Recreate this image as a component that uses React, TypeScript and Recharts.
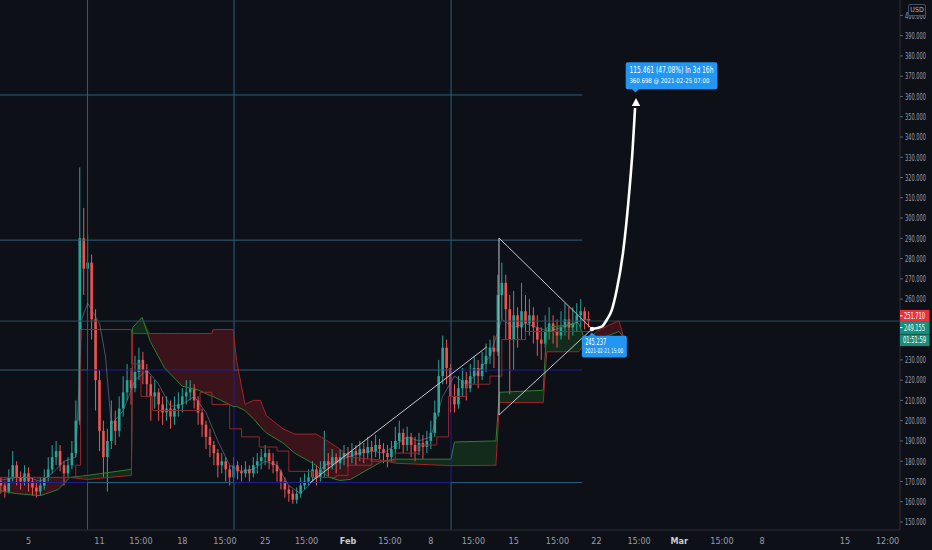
import React from 'react';
import {
  ComposedChart,
  Bar,
  Line,
  Area,
  XAxis,
  YAxis,
  ReferenceLine,
  ReferenceDot,
} from 'recharts';

const BG = '#0e1018';
const UP = '#26a69a';
const DOWN = '#ef5350';
const GRID_CYAN = '#2b5f7d';
const GRID_NAVY = '#1f1f95';
const DRAW = '#c3c6ce';
const BLUE = '#2196f3';
const AXIS_TEXT = '#9a9ea8';
const FONT = "'Liberation Sans Narrow', 'DejaVu Sans Condensed', Roboto, sans-serif";

const X_DOMAIN: [number, number] = [1.592, 77.65];
const Y_DOMAIN: [number, number] = [146.05, 407.6];

// x axis: days since Jan 1
const xTickDays = [4, 10, 13.5, 17, 20.6, 24, 27.5, 31, 34.55, 38, 41.6, 45, 48.7, 52, 55.6, 59, 62.6, 66, 73, 76.6];
const xTickLabels = ['5', '11', '15:00', '18', '15:00', '25', '15:00', 'Feb', '15:00', '8', '15:00', '15', '15:00', '22', '15:00', 'Mar', '15:00', '8', '15', '12:00'];
const yTicks = [150, 160, 170, 180, 190, 200, 210, 220, 230, 260, 270, 280, 290, 300, 310, 320, 330, 340, 350, 360, 370, 380, 390, 400];

// candles, 8h each
const START_DAY = 1.667;
const STEP = 1 / 3;
const firstOpen = 170;
const closes = [
  168, 165, 172, 178, 172, 170, 174, 170, 167, 165, 168, 172, 176, 182, 185, 178, 174, 178, 184, 200,
  290, 275, 278, 250, 220, 195, 182, 190, 200, 195, 206, 214, 220, 216, 224, 230, 225, 218, 212, 214,
  208, 204, 206, 202, 206, 208, 212, 214, 216, 210, 204, 198, 192, 188, 184, 178, 180, 176, 172, 178,
  175, 174, 176, 174, 178, 180, 182, 184, 180, 178, 175, 170, 166, 164, 161, 164, 168, 170, 172, 176,
  172, 176, 180, 178, 182, 179, 182, 184, 182, 185, 183, 186, 184, 187, 185, 188, 186, 184, 182, 186,
  190, 194, 188, 192, 188, 185, 189, 187, 190, 194, 204, 222, 236, 226, 212, 208, 216, 220, 216, 222,
  226, 222, 228, 232, 236, 234, 262, 268, 255, 240, 252, 246, 254, 248, 252, 246, 240, 238, 244, 248,
  244, 242, 246, 250, 246, 248, 252, 254, 250, 249.155,
];
const highs = [
  172, 170, 176, 185, 180, 175, 178, 177, 172, 170, 172, 176, 182, 188, 190, 188, 180, 182, 190, 210,
  325, 305, 292, 282, 255, 225, 200, 196, 210, 205, 212, 222, 228, 226, 232, 236, 234, 228, 222, 220,
  216, 212, 212, 210, 212, 214, 216, 220, 220, 218, 212, 206, 200, 196, 190, 186, 184, 182, 178, 182,
  180, 178, 180, 178, 182, 184, 186, 188, 186, 184, 180, 176, 172, 168, 166, 167, 172, 174, 176, 180,
  178, 180, 195, 184, 186, 184, 186, 188, 187, 189, 188, 190, 189, 192, 190, 193, 191, 189, 188, 190,
  197, 200, 196, 197, 194, 192, 194, 193, 195, 200, 210, 230, 242, 240, 228, 218, 222, 226, 224, 228,
  232, 230, 234, 238, 240, 242, 272, 278, 272, 262, 264, 256, 268, 262, 260, 256, 252, 246, 252, 256,
  252, 250, 254, 258, 256, 256, 258, 260, 256, 254,
];
const lows = [
  164, 162, 164, 170, 168, 166, 168, 165, 163, 162, 163, 166, 170, 174, 178, 175, 168, 172, 176, 182,
  198, 262, 258, 240, 205, 185, 172, 165, 186, 188, 192, 202, 210, 208, 214, 220, 218, 212, 200, 206,
  200, 198, 200, 196, 198, 202, 204, 208, 210, 206, 198, 192, 186, 182, 178, 172, 174, 170, 168, 170,
  171, 170, 172, 170, 172, 174, 176, 178, 176, 174, 170, 166, 162, 160, 159, 159, 162, 166, 168, 170,
  168, 170, 172, 172, 176, 174, 176, 178, 177, 179, 178, 180, 179, 181, 180, 182, 181, 179, 177, 180,
  184, 186, 184, 185, 182, 180, 183, 181, 184, 186, 192, 202, 218, 218, 204, 204, 206, 212, 210, 214,
  218, 216, 220, 224, 228, 226, 232, 250, 240, 213, 225, 236, 240, 240, 242, 238, 232, 230, 236, 240,
  238, 236, 240, 242, 240, 242, 244, 246, 245, 246,
];

// ichimoku cloud
const cloudDays = [1.0, 3, 5, 6.5, 7.5, 9, 12.7, 12.8, 13.6, 14.3, 15.5, 17, 18.4, 19.5, 19.6, 21.3, 21.6, 22.3, 23, 23.6, 24.1, 25.5, 26.5, 28.3, 29.4, 30.3, 31.2, 33.9, 35, 39.7, 40, 43.5, 43.8, 47.5, 47.8, 50.5, 51, 52, 53, 53.9, 54.3];
const spanA = [166, 164, 163, 166, 172, 173, 176, 246, 251, 239, 226, 217, 215, 212, 212, 207, 207, 205, 201, 197, 194, 189, 184, 178, 172, 170.5, 171, 180, 181, 181, 189.5, 190, 214, 215, 246, 248, 240, 240, 242, 244, 241];
const spanB = [172, 172, 172, 172, 172, 171, 173, 243, 243, 243, 243, 243, 243, 243, 245, 245, 229, 208, 210, 210, 202.5, 196, 193.4, 193.4, 189.5, 186, 182, 180.5, 179, 177.8, 177.8, 178, 209, 209, 234, 234, 238, 244, 247, 249.3, 241];

const tenkanDays = [1.0, 3, 4, 5, 6, 7, 8, 8.5, 9, 10, 10.5, 11, 12, 13, 14, 15, 16, 17, 18, 19, 20, 21, 22, 23, 24, 25, 26, 27, 28, 29, 30, 31, 32, 33, 34, 35, 36, 37, 38, 39, 40, 41, 42, 43, 44, 45, 46, 47, 48, 49, 50, 51, 51.5];
const tenkan = [170, 172, 172, 170, 174, 180, 182, 250, 258, 248, 232, 198, 205, 220, 225, 218, 207, 208, 212, 204, 190, 178, 175, 176, 180, 178, 168, 164, 170, 178, 180, 182, 184, 185, 184, 188, 192, 190, 192, 212, 222, 218, 224, 232, 250, 246, 248, 246, 244, 246, 248, 250, 250];

const kijunDays = [1.0, 6, 8, 8.4, 12.6, 12.7, 13.5, 14.5, 17, 18.5, 19.5, 21, 22, 23.5, 25, 26, 28, 30, 31, 33, 35, 37, 38.5, 39.5, 41, 43, 44, 46, 48, 51.6];
const kijun = [172, 172, 178, 245, 245, 228, 212, 205, 205, 214, 208, 196, 192, 187, 185, 175, 172, 173, 178, 180, 184, 188, 192, 212, 218, 222, 240, 244, 244, 244];

// drawings
const gridX = [8.99, 21.37, 39.71];
const gridLevels = [360.73, 289.1, 225.0, 169.47];
const gridRight = 50.79;
const trendLine = [{ x: 27.79, y: 169.4 }, { x: 42.75, y: 236.5 }];
const triangle = [{ x: 43.76, y: 290.15 }, { x: 51.625, y: 245.237 }, { x: 43.76, y: 202.8 }];
const curveDays = [51.625, 52.44, 52.86, 53.29, 53.71, 54.27, 54.71, 55.05, 55.26];
const curveValues = [245.237, 246.4, 249.7, 254.6, 264.5, 284.2, 308.9, 333.6, 354.3];
const target = { x: 55.29, y: 360.698 };
const lastPrice = 249.155;
const prevPrice = 251.71;

const candles = closes.map((c, i) => ({
  t: START_DAY + i * STEP,
  open: i === 0 ? firstOpen : closes[i - 1],
  close: c,
  high: highs[i],
  low: lows[i],
  range: [lows[i], highs[i]],
}));
const cloud = cloudDays.map((t, i) => ({ t, a: spanA[i], b: spanB[i] }));
const tenkanData = tenkanDays.map((t, i) => ({ t, v: tenkan[i] }));
const kijunData = kijunDays.map((t, i) => ({ t, v: kijun[i] }));
const curveData = curveDays.map((t, i) => ({ t, v: curveValues[i] }));

const Candle = (props: any) => {
  const { x, width, payload } = props;
  let { y, height } = props;
  if (height < 0) {
    y += height;
    height = -height;
  }
  const { open, close, high, low } = payload;
  const color = close >= open ? UP : DOWN;
  const cx = x + width / 2;
  const k = high === low ? 0 : height / (high - low);
  const top = y + (high - Math.max(open, close)) * k;
  const bottom = y + (high - Math.min(open, close)) * k;
  return (
    <g>
      <line x1={cx} x2={cx} y1={y} y2={y + height} stroke={color} strokeWidth={1} />
      <rect x={cx - 1.3} y={top} width={2.6} height={Math.max(1, bottom - top)} fill={color} />
    </g>
  );
};

const YTick = ({ x, y, payload }: any) => (
  <text x={x} y={y} dy={3.3} fill={AXIS_TEXT} fontSize={9} fontFamily={FONT} textLength={21} lengthAdjust="spacingAndGlyphs">
    {Number(payload.value).toFixed(3)}
  </text>
);

const XTick = ({ x, y, payload }: any) => {
  const label = xTickLabels[xTickDays.indexOf(payload.value)];
  const bold = label === 'Feb' || label === 'Mar';
  return (
    <text x={x} y={y} dy={14.3} textAnchor="middle" fill={bold ? '#c9ccd3' : AXIS_TEXT} fontSize={9} fontWeight={bold ? 700 : 400} fontFamily={FONT}>
      {label}
    </text>
  );
};

const TargetLabel = ({ cx, cy }: any) => (
  <g>
    <polygon points={`${cx + 0.6},${cy + 3} ${cx - 3.6},${cy + 11} ${cx + 4.8},${cy + 11}`} fill="#ffffff" />
    <rect x={cx - 9.7} y={cy - 32.8} width={91.6} height={27} rx={2} fill={BLUE} />
    <polygon points={`${cx - 3.5},${cy - 6} ${cx + 3.5},${cy - 6} ${cx},${cy - 2.5}`} fill={BLUE} />
    <text x={cx - 6} y={cy - 21.8} fill="#ffffff" fontSize={8.5} fontFamily={FONT} textLength={84} lengthAdjust="spacingAndGlyphs">
      115.461 (47.08%) In 3d 16h
    </text>
    <text x={cx - 6} y={cy - 12.4} fill="#ffffff" fontSize={6.5} fontFamily={FONT} textLength={80} lengthAdjust="spacingAndGlyphs">
      360.698 @ 2021-02-25  07:00
    </text>
  </g>
);

const ApexLabel = ({ cx, cy }: any) => (
  <g>
    <rect x={cx - 10.2} y={cy + 6.8} width={45} height={21.6} rx={2} fill={BLUE} />
    <polygon points={`${cx - 0.5},${cy + 3.4} ${cx - 3},${cy + 7} ${cx + 4},${cy + 7}`} fill={BLUE} />
    <circle cx={cx} cy={cy} r={2.3} fill="#ffffff" />
    <text x={cx - 6.9} y={cy + 15.6} fill="#ffffff" fontSize={8.5} fontFamily={FONT} textLength={21} lengthAdjust="spacingAndGlyphs">
      245.237
    </text>
    <text x={cx - 6.9} y={cy + 24.1} fill="#ffffff" fontSize={6.5} fontFamily={FONT} textLength={38} lengthAdjust="spacingAndGlyphs">
      2021-02-21 15:00
    </text>
  </g>
);

const PrevPriceTag = ({ cx, cy }: any) => (
  <g>
    <rect x={cx} y={cy - 6} width={29.5} height={11.2} fill="#e8313b" />
    <line x1={cx} x2={cx + 2.5} y1={cy} y2={cy} stroke="#ffffff" />
    <text x={cx + 4} y={cy + 3.2} fill="#ffffff" fontSize={9} fontFamily={FONT} textLength={21} lengthAdjust="spacingAndGlyphs">
      251.710
    </text>
  </g>
);

const LastPriceTag = ({ cx, cy }: any) => (
  <g>
    <rect x={cx} y={cy} width={29.5} height={13} fill="#13907d" />
    <rect x={cx} y={cy + 13.4} width={29.5} height={11.6} fill="#13907d" />
    <line x1={cx} x2={cx + 2.5} y1={cy + 6.5} y2={cy + 6.5} stroke="#ffffff" />
    <text x={cx + 4} y={cy + 9.8} fill="#ffffff" fontSize={9} fontFamily={FONT} textLength={21} lengthAdjust="spacingAndGlyphs">
      249.155
    </text>
    <text x={cx + 3} y={cy + 22.3} fill="#ffffff" fontSize={8.5} fontFamily={FONT} textLength={23} lengthAdjust="spacingAndGlyphs">
      01:51:59
    </text>
  </g>
);

function gridSegments() {
  const [x0, x3] = [X_DOMAIN[0], gridRight];
  const [yBottom, yTop] = Y_DOMAIN;
  const [, , l3, l4] = gridLevels;
  const segs: { a: any; b: any; c: string }[] = [];
  gridX.forEach((gx) => {
    segs.push({ a: { x: gx, y: yTop }, b: { x: gx, y: l3 }, c: GRID_CYAN });
    segs.push({ a: { x: gx, y: l3 }, b: { x: gx, y: l4 }, c: GRID_NAVY });
    segs.push({ a: { x: gx, y: l4 }, b: { x: gx, y: yBottom }, c: GRID_CYAN });
  });
  gridLevels.slice(0, 2).forEach((lv) => {
    segs.push({ a: { x: x0, y: lv }, b: { x: x3, y: lv }, c: GRID_CYAN });
  });
  const xs = [x0, ...gridX, x3];
  for (let i = 0; i < xs.length - 1; i++) {
    segs.push({ a: { x: xs[i], y: l3 }, b: { x: xs[i + 1], y: l3 }, c: i % 2 === 0 ? GRID_CYAN : GRID_NAVY });
    segs.push({ a: { x: xs[i], y: l4 }, b: { x: xs[i + 1], y: l4 }, c: i % 2 === 0 ? GRID_NAVY : GRID_CYAN });
  }
  return segs;
}

export default function App() {
  const segs = gridSegments();
  return (
    <div style={{ position: 'absolute', left: 0, top: 0, width: 932, height: 550, background: BG, overflow: 'hidden' }}>
      <ComposedChart width={932} height={550} data={candles} margin={{ top: 0, right: 0, bottom: 0, left: 0 }}>
        <XAxis
          dataKey="t"
          type="number"
          domain={X_DOMAIN}
          allowDataOverflow
          ticks={xTickDays}
          interval={0}
          tick={<XTick />}
          tickLine={false}
          tickSize={0}
          tickMargin={0}
          height={20}
          axisLine={{ stroke: '#2a2e39' }}
        />
        <YAxis
          orientation="right"
          type="number"
          domain={Y_DOMAIN}
          allowDataOverflow
          ticks={yTicks}
          interval={0}
          tick={<YTick />}
          tickLine={{ stroke: '#5d606b' }}
          tickSize={3}
          tickMargin={2}
          width={32}
          axisLine={{ stroke: '#2a2e39' }}
        />

        {segs.map((s, i) => (
          <ReferenceLine key={`g${i}`} segment={[s.a, s.b]} stroke={s.c} strokeWidth={1} ifOverflow="hidden" />
        ))}

        <Area
          data={cloud}
          dataKey={(d: any) => (d.b >= d.a ? [d.a, d.b] : [d.a, d.a])}
          type="linear"
          stroke="none"
          fill="#7a1a22"
          fillOpacity={0.42}
          dot={false}
          activeDot={false}
          isAnimationActive={false}
        />
        <Area
          data={cloud}
          dataKey={(d: any) => (d.a > d.b ? [d.b, d.a] : [d.b, d.b])}
          type="linear"
          stroke="none"
          fill="#1b5e20"
          fillOpacity={0.35}
          dot={false}
          activeDot={false}
          isAnimationActive={false}
        />
        <Line data={cloud} dataKey="a" type="linear" stroke="#2e7d32" strokeWidth={1} dot={false} activeDot={false} isAnimationActive={false} />
        <Line data={cloud} dataKey="b" type="linear" stroke="#a3222a" strokeWidth={1} dot={false} activeDot={false} isAnimationActive={false} />
        <Line data={kijunData} dataKey="v" type="stepAfter" stroke="#8e2a2e" strokeWidth={1} dot={false} activeDot={false} isAnimationActive={false} />
        <Line data={tenkanData} dataKey="v" type="linear" stroke="#6f7f98" strokeOpacity={0.6} strokeWidth={1} dot={false} activeDot={false} isAnimationActive={false} />

        <ReferenceLine y={lastPrice} stroke="#2c4c57" strokeWidth={1} />

        <Bar dataKey="range" barSize={3} shape={<Candle />} isAnimationActive={false} />

        <ReferenceLine segment={trendLine} stroke={DRAW} strokeWidth={1} />
        <ReferenceLine segment={[triangle[0], triangle[1]]} stroke={DRAW} strokeWidth={1} />
        <ReferenceLine segment={[triangle[1], triangle[2]]} stroke={DRAW} strokeWidth={1} />
        <ReferenceLine segment={[triangle[2], triangle[0]]} stroke={DRAW} strokeWidth={1} />

        <Line data={curveData} dataKey="v" type="monotoneX" stroke="#ffffff" strokeWidth={2.6} dot={false} activeDot={false} isAnimationActive={false} />

        <ReferenceDot x={target.x} y={target.y} r={1} ifOverflow="visible" shape={(p: any) => <TargetLabel {...p} />} />
        <ReferenceDot x={triangle[1].x} y={triangle[1].y} r={1} ifOverflow="visible" shape={(p: any) => <ApexLabel {...p} />} />
        <ReferenceDot x={X_DOMAIN[1]} y={prevPrice} r={1} ifOverflow="visible" shape={(p: any) => <PrevPriceTag {...p} />} />
        <ReferenceDot x={X_DOMAIN[1]} y={lastPrice} r={1} ifOverflow="visible" shape={(p: any) => <LastPriceTag {...p} />} />
      </ComposedChart>
      <div
        style={{
          position: 'absolute',
          left: 908,
          top: 4,
          width: 16,
          height: 10,
          border: '1px solid #4a4e5a',
          borderRadius: 2,
          background: BG,
          color: '#b2b5be',
          fontSize: 7,
          lineHeight: '10px',
          textAlign: 'center',
          fontFamily: FONT,
        }}
      >
        USD
      </div>
    </div>
  );
}
